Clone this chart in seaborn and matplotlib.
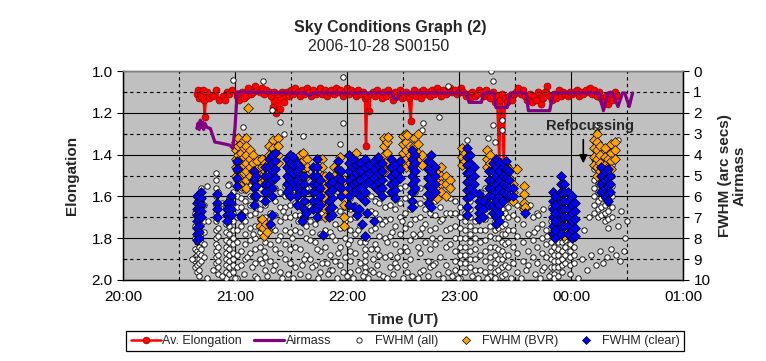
import matplotlib
matplotlib.use('Agg')
import matplotlib.pyplot as plt
import seaborn as sns
import pandas as pd
from matplotlib.ticker import MultipleLocator, FormatStrFormatter, FixedLocator, FixedFormatter

sns.set_theme(style='white')
plt.rcParams['font.family'] = ['Liberation Sans', 'DejaVu Sans']

# Eixo do tempo (horas; 24 = meia-noite)
hour_ticks = [20, 21, 22, 23, 24, 25]
hour_labels = ['20:00', '21:00', '22:00', '23:00', '00:00', '01:00']

# Airmass (eixo direito)
air_t = [20.66, 20.67, 20.68, 20.69, 20.70, 20.71, 20.72, 20.73, 20.75, 20.78, 20.82, 20.87,
         20.955, 20.98, 21.00, 21.02, 21.50, 21.63, 21.66, 21.70, 22.40, 22.42, 22.45, 22.47,
         23.07, 23.09, 23.20, 23.22, 23.31, 23.33, 23.43, 23.46, 23.60, 23.62, 23.81, 23.84,
         24.25, 24.29, 24.33, 24.37, 24.42, 24.46, 24.48, 24.52, 24.55]
air_v = [2.75, 2.5, 2.8, 2.35, 2.7, 2.45, 2.8, 2.5, 2.7, 2.75, 3.4, 3.45,
         3.55, 3.7, 2.7, 1.0, 1.05, 1.05, 1.2, 1.05, 1.05, 1.35, 1.35, 1.05,
         1.05, 1.5, 1.5, 1.05, 1.05, 1.75, 1.75, 1.05, 1.05, 1.9, 1.9, 1.05,
         1.05, 1.9, 1.05, 1.05, 1.7, 1.05, 1.05, 1.7, 1.05]

# Elongacao media (eixo esquerdo)
elong_pts = [
    (20.66, 1.11), (20.67, 1.09), (20.68, 1.13), (20.69, 1.10), (20.70, 1.12), (20.71, 1.09),
    (20.72, 1.14), (20.73, 1.22), (20.74, 1.12), (20.75, 1.10), (20.77, 1.13), (20.80, 1.12),
    (20.83, 1.09), (20.86, 1.14), (20.89, 1.12), (20.91, 1.14), (20.93, 1.10), (20.95, 1.11),
    (20.97, 1.09), (21.02, 1.12), (21.04, 1.14), (21.06, 1.10), (21.08, 1.13), (21.10, 1.12),
    (21.12, 1.08), (21.14, 1.11), (21.16, 1.10), (21.18, 1.07), (21.20, 1.09), (21.22, 1.10),
    (21.24, 1.08), (21.26, 1.11), (21.28, 1.09), (21.30, 1.10), (21.32, 1.12), (21.34, 1.17),
    (21.35, 1.10), (21.37, 1.20), (21.38, 1.11), (21.40, 1.18), (21.42, 1.10), (21.44, 1.15),
    (21.46, 1.10), (21.48, 1.12), (21.50, 1.09), (21.52, 1.11), (21.54, 1.08), (21.56, 1.10),
    (21.58, 1.12), (21.60, 1.09), (21.62, 1.11), (21.64, 1.08), (21.66, 1.10), (21.68, 1.12),
    (21.70, 1.09), (21.72, 1.11), (21.74, 1.10), (21.76, 1.08), (21.78, 1.11), (21.80, 1.09),
    (21.82, 1.12), (21.84, 1.10), (21.86, 1.09), (21.88, 1.11), (21.90, 1.08), (21.92, 1.10),
    (21.94, 1.09), (21.96, 1.12), (21.98, 1.10), (22.00, 1.08), (22.02, 1.11), (22.04, 1.09),
    (22.06, 1.10), (22.08, 1.12), (22.10, 1.09), (22.12, 1.11), (22.14, 1.10), (22.16, 1.13),
    (22.17, 1.36), (22.18, 1.12), (22.20, 1.19), (22.21, 1.11), (22.23, 1.10), (22.25, 1.12),
    (22.27, 1.09), (22.29, 1.11), (22.31, 1.13), (22.33, 1.10), (22.35, 1.12), (22.37, 1.09),
    (22.39, 1.11), (22.41, 1.14), (22.43, 1.10), (22.45, 1.12), (22.47, 1.09), (22.49, 1.13),
    (22.51, 1.11), (22.53, 1.10), (22.55, 1.13), (22.57, 1.24), (22.58, 1.11), (22.60, 1.09),
    (22.62, 1.12), (22.64, 1.10), (22.66, 1.13), (22.68, 1.09), (22.70, 1.11), (22.72, 1.10),
    (22.74, 1.12), (22.76, 1.09), (22.78, 1.11), (22.80, 1.08), (22.82, 1.10), (22.84, 1.12),
    (22.86, 1.09), (22.88, 1.11), (22.90, 1.10), (22.92, 1.08), (22.94, 1.10), (22.96, 1.09),
    (22.98, 1.11), (23.00, 1.10), (23.02, 1.08), (23.04, 1.10), (23.06, 1.12), (23.08, 1.11),
    (23.10, 1.13), (23.12, 1.10), (23.14, 1.12), (23.16, 1.11), (23.18, 1.09), (23.20, 1.10),
    (23.22, 1.12), (23.24, 1.09), (23.26, 1.11), (23.28, 1.13), (23.30, 1.10), (23.32, 1.15),
    (23.34, 1.12), (23.36, 1.43), (23.37, 1.14), (23.38, 1.11), (23.40, 1.44), (23.41, 1.13),
    (23.43, 1.15), (23.45, 1.12), (23.47, 1.14), (23.49, 1.11), (23.51, 1.10), (23.53, 1.08),
    (23.55, 1.11), (23.57, 1.09), (23.59, 1.12), (23.61, 1.14), (23.63, 1.11), (23.65, 1.15),
    (23.67, 1.12), (23.69, 1.14), (23.71, 1.10), (23.73, 1.16), (23.75, 1.13), (23.77, 1.10),
    (23.79, 1.07), (23.81, 1.12), (23.83, 1.14), (23.85, 1.11), (23.87, 1.13), (23.89, 1.09),
    (23.91, 1.12), (23.93, 1.10), (23.95, 1.11), (23.97, 1.12), (23.99, 1.10), (24.01, 1.11),
    (24.03, 1.10), (24.05, 1.09), (24.07, 1.12), (24.09, 1.10), (24.11, 1.11), (24.13, 1.09),
    (24.15, 1.10), (24.17, 1.08), (24.19, 1.11), (24.21, 1.09), (24.23, 1.12), (24.25, 1.10),
    (24.27, 1.13), (24.29, 1.15), (24.31, 1.12), (24.33, 1.16), (24.35, 1.11), (24.37, 1.14),
    (24.39, 1.10), (24.41, 1.12),
]

# FWHM (all): colunas de pontos
all_col_t = [20.64, 20.66, 20.68, 20.70, 20.72, 20.83, 20.85, 20.92, 20.95, 20.98,
             21.02, 21.05, 21.09, 21.13, 21.18, 21.22, 21.27, 21.31, 21.36, 21.40,
             21.45, 21.49, 21.54, 21.58, 21.63, 21.67, 21.71, 21.76, 21.80, 21.85,
             21.89, 21.94, 21.98, 22.03, 22.07, 22.12, 22.16, 22.21, 22.25, 22.29,
             22.34, 22.38, 22.43, 22.47, 22.52, 22.56, 22.61, 22.65, 22.70, 22.74,
             22.79, 22.83, 22.88, 22.92, 22.96, 23.01, 23.05, 23.10, 23.14, 23.19,
             23.23, 23.28, 23.32, 23.35, 23.38, 23.41, 23.44, 23.48, 23.52, 23.57,
             23.62, 23.66, 23.70, 23.74, 23.78, 23.82, 23.85, 23.88, 23.92, 23.95,
             23.99, 24.03, 24.21, 24.24, 24.27, 24.30, 24.33, 24.37]
all_col_f = [
    [6.8, 7.4, 8.0, 8.5, 8.9, 9.1, 9.4],
    [6.2, 6.6, 7.0, 7.5, 7.9, 8.2, 8.6, 8.8, 9.0, 9.3, 9.6],
    [6.0, 6.5, 7.1, 7.6, 8.1, 8.4, 8.7, 9.0, 9.2, 9.5, 9.8],
    [5.6, 6.3, 6.9, 7.3, 7.8, 8.2, 8.5, 8.8, 9.1],
    [6.4, 7.2, 7.7, 8.3, 8.9],
    [4.9, 5.2, 5.6, 6.0, 6.4, 6.8, 7.2, 7.6, 8.0, 8.3, 8.6, 8.9, 9.2, 9.5],
    [5.8, 6.5, 7.0, 7.5, 7.9, 8.4, 8.8, 9.1, 9.4, 9.7],
    [6.5, 6.9, 7.3, 7.7, 8.1, 8.4, 8.7, 9.0, 9.3, 9.6, 9.9],
    [5.4, 6.1, 6.6, 7.0, 7.4, 7.8, 8.2, 8.5, 8.8, 9.1, 9.4, 9.7],
    [5.8, 6.4, 6.8, 7.2, 7.6, 8.0, 8.3, 8.7, 9.0, 9.3, 9.6],
    [4.5, 5.0, 5.5, 6.0, 6.5, 7.0, 7.6, 8.2, 8.8, 9.4, 9.9],
    [4.8, 5.3, 5.7, 6.1, 6.5, 6.9, 7.4, 8.6, 9.3],
    [5.2, 5.7, 6.2, 6.7, 7.2, 7.8, 8.3, 9.0],
    [5.0, 5.5, 6.0, 6.4, 6.9, 7.5, 8.1, 8.7],
    [5.4, 5.9, 6.3, 6.8, 7.4, 8.0, 8.5, 9.2, 9.8],
    [5.6, 6.1, 6.6, 7.1, 7.7, 8.4, 9.0],
    [5.2, 5.8, 6.4, 7.0, 7.6, 8.2, 8.9, 9.5],
    [5.5, 6.1, 6.8, 7.5, 8.3, 9.1],
    [5.0, 5.6, 6.2, 6.9, 7.6, 8.5, 9.3],
    [5.8, 6.5, 7.2, 7.9, 8.7, 9.6],
    [5.5, 6.0, 6.5, 7.0, 7.6, 8.3, 9.0],
    [5.8, 6.4, 7.0, 7.7, 8.5, 9.2],
    [5.2, 5.7, 6.3, 6.9, 7.6, 8.4, 9.4],
    [5.6, 6.2, 6.9, 7.7, 8.5, 9.7],
    [5.0, 5.6, 6.2, 6.8, 7.4, 8.0, 8.8],
    [5.8, 6.5, 7.2, 8.1, 9.0],
    [5.4, 6.0, 6.6, 7.3, 8.2, 9.3],
    [5.2, 5.8, 6.4, 7.0, 7.8, 8.6, 9.6],
    [5.6, 6.2, 6.9, 7.6, 8.4],
    [5.0, 5.6, 6.2, 6.9, 7.7, 8.8, 9.5],
    [6.0, 6.6, 7.3, 8.1, 9.1],
    [5.4, 6.0, 6.7, 7.5, 8.4, 9.3],
    [5.2, 5.8, 6.5, 7.2, 8.0, 8.9],
    [5.6, 6.1, 6.6, 7.1, 7.6, 8.1, 8.6, 9.1, 9.6],
    [5.8, 6.4, 7.0, 7.8, 8.7],
    [6.0, 6.7, 7.4, 8.2, 9.2],
    [7.9, 8.2, 8.5, 8.8, 9.1, 9.4, 9.6],
    [5.4, 6.0, 6.7, 7.6, 8.5, 9.5],
    [5.6, 6.2, 6.8, 7.5, 8.3],
    [5.0, 5.6, 6.3, 7.1, 7.9, 8.8, 9.7],
    [5.3, 5.9, 6.5, 7.2, 8.0, 8.9],
    [5.8, 6.4, 7.1, 7.9, 8.8, 9.4],
    [5.4, 6.0, 6.6, 7.4, 8.3, 9.2],
    [5.6, 6.3, 7.0, 7.8, 8.6],
    [5.5, 6.1, 6.8, 7.5, 8.4, 9.3],
    [6.0, 6.6, 7.3, 8.1, 9.0],
    [5.2, 5.8, 6.4, 7.1, 7.9],
    [5.6, 6.3, 7.0, 7.8, 8.7, 9.6],
    [6.0, 6.6, 7.3, 8.2],
    [5.4, 6.0, 6.8, 7.6, 8.5, 9.4],
    [6.2, 6.9, 7.5, 8.3, 9.2],
    [5.8, 6.5, 7.2, 8.0, 8.9],
    [6.0, 6.8, 7.6, 8.4, 9.3],
    [5.5, 6.1, 6.8, 7.5, 8.3],
    [6.2, 6.8, 7.4, 8.0, 8.6, 9.1, 9.5],
    [6.5, 7.0, 7.5, 8.0, 8.4, 8.8, 9.2, 9.6, 9.9],
    [6.8, 7.2, 7.6, 8.0, 8.4, 8.8, 9.2, 9.6],
    [6.2, 6.6, 7.0, 7.4, 7.8, 8.2, 8.6, 9.0, 9.4],
    [7.2, 7.6, 8.0, 8.5, 9.0, 9.5],
    [5.8, 6.4, 7.0, 7.6, 8.2, 8.8, 9.5],
    [5.6, 6.1, 6.6, 7.1, 7.6, 8.1, 8.6, 9.1, 9.6],
    [5.4, 5.9, 6.4, 6.9, 7.4, 7.9, 8.4, 8.9, 9.4, 9.8],
    [6.0, 6.4, 6.8, 7.2, 7.6, 8.0, 8.4, 8.8, 9.2, 9.6, 9.9],
    [5.6, 6.0, 6.5, 7.0, 7.5, 8.0, 8.5, 9.0, 9.5],
    [6.2, 6.6, 7.0, 7.4, 7.8, 8.2, 8.6, 9.0, 9.4, 9.8],
    [5.8, 6.3, 6.8, 7.3, 7.8, 8.3, 8.8, 9.3, 9.7],
    [6.0, 6.5, 7.0, 7.6, 8.2, 8.8, 9.4],
    [5.6, 6.2, 6.9, 7.6, 8.4, 9.2],
    [6.4, 7.1, 7.9, 8.7, 9.6],
    [6.6, 7.3, 8.2, 9.1],
    [6.5, 7.8, 8.6, 9.3],
    [7.0, 8.1, 8.9],
    [6.8, 7.5, 8.4, 9.2],
    [7.3, 8.0, 8.7, 9.5],
    [7.6, 8.3, 8.9],
    [6.5, 7.2, 7.8, 8.2, 8.6, 9.0, 9.4, 9.7],
    [7.6, 8.0, 8.4, 8.8, 9.1, 9.4, 9.7, 9.9],
    [7.9, 8.2, 8.5, 8.8, 9.1, 9.4, 9.8],
    [7.4, 7.8, 8.2, 8.6, 9.0, 9.3, 9.6],
    [7.8, 8.1, 8.4, 8.8, 9.2],
    [8.0, 8.3, 8.6, 8.9, 9.3, 9.7],
    [7.6, 8.0, 8.4, 8.8, 9.2],
    [4.2, 4.7, 5.2, 5.6, 6.0, 6.4, 6.8],
    [4.5, 5.0, 5.4, 5.8, 6.2, 6.6, 7.0],
    [4.8, 5.3, 5.7, 6.1, 6.5, 6.9],
    [4.6, 5.1, 5.6, 6.0, 6.4, 6.8, 7.2],
    [4.4, 4.9, 5.4, 5.9, 6.3, 6.7, 7.1, 7.5],
    [4.0, 4.5, 5.0, 5.5, 6.0, 6.5, 7.0],
]
# FWHM (all): pontos isolados
all_pts = [
    (20.98, 0.45), (21.07, 2.7), (21.25, 0.5), (21.33, 1.85), (21.40, 2.45), (21.44, 3.0),
    (21.61, 3.1), (21.96, 0.3), (21.96, 2.5), (21.94, 3.5), (22.90, 0.7), (22.82, 2.2),
    (22.68, 2.5), (22.67, 2.8), (23.07, 3.3), (23.29, 0.0), (23.30, 0.5), (23.30, 2.6),
    (23.26, 3.2), (23.38, 2.35), (23.38, 2.8), (23.32, 3.4), (24.23, 2.6), (24.23, 2.9),
    (24.42, 3.3), (24.38, 3.7), (20.75, 5.5), (20.94, 5.45),
    (20.62, 9.0), (20.75, 9.9), (20.80, 9.5), (20.88, 9.8), (21.00, 9.9), (21.08, 9.7),
    (21.15, 9.4), (21.20, 9.9), (21.24, 9.2), (21.29, 9.8), (21.34, 9.5), (21.42, 9.9),
    (21.47, 9.7), (21.52, 9.9), (21.60, 9.3), (21.65, 9.8), (21.69, 9.4), (21.74, 9.9),
    (21.78, 9.2), (21.83, 9.7), (21.87, 9.5), (21.91, 9.9), (21.96, 9.6), (22.00, 9.8),
    (22.05, 9.9), (22.10, 9.5), (22.14, 9.8), (22.19, 9.9), (22.23, 9.6), (22.27, 9.3),
    (22.32, 9.8), (22.36, 9.9), (22.41, 9.7), (22.45, 9.4), (22.50, 9.9), (22.54, 9.6),
    (22.58, 9.8), (22.63, 9.9), (22.68, 9.5), (22.72, 9.8), (22.77, 9.3), (22.81, 9.7),
    (22.86, 9.9), (22.90, 9.6), (22.94, 9.8), (22.99, 9.9), (23.12, 9.8), (23.17, 9.9),
    (23.25, 9.9), (23.46, 9.9), (23.55, 9.9), (23.60, 9.5), (23.68, 9.7), (23.72, 9.9),
    (23.76, 9.4), (23.80, 9.8), (24.06, 9.9), (24.10, 9.0), (24.14, 9.5), (24.18, 8.8),
    (24.22, 9.3), (24.26, 8.6), (24.29, 9.2), (24.32, 8.9), (24.36, 8.5), (24.40, 8.8),
    (24.44, 9.1), (24.47, 8.6),
    (20.76, 7.2), (20.88, 6.3), (21.11, 8.9), (21.16, 7.8), (21.26, 8.6), (21.33, 7.4),
    (21.38, 8.1), (21.43, 6.7), (21.51, 8.0), (21.56, 7.2), (21.62, 9.0), (21.69, 7.7),
    (21.73, 8.5), (21.78, 6.8), (21.82, 9.2), (21.87, 7.9), (21.92, 8.7), (21.96, 7.4),
    (22.01, 8.3), (22.10, 7.6), (22.18, 8.0), (22.23, 9.0), (22.27, 8.5), (22.31, 7.3),
    (22.36, 8.2), (22.40, 7.7), (22.45, 8.9), (22.49, 7.2), (22.54, 8.6), (22.59, 7.8),
    (22.63, 8.4), (22.67, 7.5), (22.72, 9.1), (22.76, 8.0), (22.85, 7.1), (23.63, 6.4),
    (23.67, 7.7), (23.71, 6.9), (23.75, 6.6), (23.79, 7.9), (24.12, 7.6), (24.16, 7.0),
    (24.42, 7.4), (24.45, 6.7), (24.48, 8.0), (24.50, 7.2),
]

# FWHM (BVR): colunas e pontos isolados
bvr_col_t = [21.01, 21.03, 21.05, 21.08, 21.10, 21.13, 21.16, 21.20, 21.24, 21.27,
             21.30, 21.34, 21.38, 21.58, 21.61, 21.64, 21.78, 21.80, 21.88, 21.97,
             22.08, 22.33, 22.36, 22.50, 22.53, 22.56, 22.60, 22.63, 22.67, 22.77,
             22.80, 22.84, 22.88, 22.92, 23.03, 23.05, 23.25, 23.28, 23.42, 23.45,
             23.48, 23.58, 23.94, 23.97, 24.00, 24.21, 24.23, 24.26, 24.30, 24.33,
             24.36, 24.39]
bvr_col_f = [
    [3.4, 3.8, 4.2, 4.6, 5.0], [3.2, 3.6, 4.0, 4.4, 4.8, 5.2], [3.5, 3.9, 4.3, 4.7, 5.1, 5.5],
    [3.3, 3.7, 4.1, 4.5, 4.9], [3.2, 3.6, 4.0, 4.4, 4.8, 5.2, 5.6], [3.8, 4.2, 4.6, 5.0],
    [4.0, 4.4, 4.8, 5.2], [4.3, 4.7, 5.1], [4.2, 4.6, 5.0, 5.3], [4.4, 4.8, 5.2],
    [3.6, 4.0, 4.4, 4.8], [3.3, 3.7, 4.1, 4.5], [3.2, 3.6, 4.0, 4.4],
    [4.0, 4.4, 4.8], [3.9, 4.3, 4.7, 5.0], [4.2, 4.6, 5.0],
    [4.2, 4.6, 5.0, 5.4, 5.8, 6.2], [5.0, 5.6, 6.1, 6.6, 7.0], [4.6, 5.0, 5.3],
    [5.2, 5.8, 6.4, 7.0, 7.4], [3.9, 4.3, 4.6], [3.2, 3.6, 4.0, 4.4, 4.8], [3.4, 3.9, 4.3],
    [3.1, 3.5, 3.9, 4.3], [3.0, 3.4, 3.8, 4.2, 4.6], [3.6, 4.0, 4.4],
    [3.2, 3.6, 4.0, 4.4, 4.8], [3.0, 3.5, 3.9, 4.3], [4.0, 4.5], [4.7, 5.1, 5.5],
    [4.9, 5.3, 5.7, 6.1], [4.6, 5.0, 5.4, 5.8], [5.0, 5.4, 6.0], [5.2, 5.6],
    [3.7, 4.1, 4.5], [3.9, 4.3], [3.8, 4.2, 4.6], [4.0, 4.4], [4.5, 4.9, 5.3],
    [4.7, 5.1, 5.5, 5.9], [5.4, 5.8, 6.2], [5.5, 5.9, 6.3, 6.6],
    [7.2, 7.6, 7.9], [7.0, 7.4], [7.3, 7.8],
    [3.3, 3.7, 4.1, 4.5], [3.0, 3.4, 3.8, 4.2, 4.6, 5.0], [3.6, 4.0, 4.4, 4.8],
    [3.7, 4.1, 4.5], [4.2, 4.6, 5.0, 5.3], [3.5, 3.9, 4.3, 4.7], [3.4, 3.8, 4.2],
]
bvr_pts = [(21.12, 1.75), (21.22, 7.4), (21.24, 7.1), (21.25, 7.5), (21.26, 7.9), (21.28, 7.3),
           (21.29, 7.7), (21.94, 4.1), (22.37, 3.15), (22.54, 3.06), (23.52, 4.7),
           (23.59, 6.5), (24.30, 5.6), (24.31, 6.1)]

# FWHM (clear): colunas e pontos isolados
clear_col_t = [20.66, 20.68, 20.70, 20.84, 20.93, 20.96, 21.02, 21.17, 21.19, 21.27,
               21.30, 21.33, 21.36, 21.46, 21.49, 21.52, 21.55, 21.58, 21.62, 21.70,
               21.73, 21.76, 21.84, 21.87, 21.92, 21.95, 22.02, 22.05, 22.08, 22.12,
               22.16, 22.20, 22.24, 22.28, 22.31, 22.39, 22.43, 22.47, 22.58, 22.61,
               22.72, 22.75, 22.79, 23.07, 23.10, 23.13, 23.18, 23.21, 23.27, 23.30,
               23.33, 23.36, 23.39, 23.42, 23.45, 23.48, 23.84, 23.86, 23.91, 23.94,
               23.97, 24.01, 24.04, 24.27, 24.30, 24.33, 24.35]
clear_col_f = [
    [6.0, 6.3, 6.6, 6.9, 7.2, 7.5, 7.8, 8.1], [6.2, 6.5, 6.8, 7.1, 7.4, 7.7, 8.0],
    [5.8, 6.1, 6.4, 6.7, 7.0], [5.9, 6.3, 6.6, 7.0], [6.3, 6.6, 6.9, 7.2], [6.0, 6.3, 6.6, 6.9],
    [4.3, 4.7, 5.1, 5.5], [4.8, 5.2, 5.6, 6.0, 6.4], [5.0, 5.5, 6.0],
    [4.6, 5.0, 5.4, 5.8, 6.2], [4.2, 4.6, 5.0, 5.4], [4.0, 4.4, 4.8, 5.2, 5.6, 6.0],
    [3.9, 4.3, 4.7, 5.1], [4.2, 4.6, 5.0, 5.4, 5.8], [4.0, 4.4, 4.8, 5.2, 5.6, 6.0],
    [4.1, 4.5, 4.9, 5.3], [4.4, 4.8, 5.2, 5.6, 6.0, 6.4], [4.6, 5.0, 5.4, 5.8],
    [5.0, 5.4, 5.8, 6.2, 6.6, 7.0], [4.6, 5.0, 5.4, 5.8, 6.2, 6.6],
    [4.2, 4.6, 5.0, 5.4, 5.8, 6.2, 6.6, 7.0], [5.2, 5.6, 6.0, 6.4],
    [5.0, 5.4, 5.8, 6.2, 6.6, 7.0], [5.3, 5.7, 6.1, 6.5, 6.9], [4.3, 4.7, 5.1, 5.5],
    [4.8, 5.2, 5.6, 6.0], [4.0, 4.4, 4.8, 5.2, 5.6, 6.0, 6.4], [4.2, 4.6, 5.0, 5.4, 5.8],
    [4.5, 4.9, 5.3, 5.7], [4.4, 4.8, 5.2, 5.6, 6.0], [4.2, 4.6, 5.0, 5.4, 5.8, 6.2],
    [4.5, 4.9, 5.3], [4.3, 4.7, 5.1, 5.5], [4.1, 4.5, 4.9, 5.3, 5.7],
    [4.4, 4.8, 5.2, 5.6, 6.0], [4.2, 4.6, 5.0, 5.4, 5.8], [4.5, 4.9, 5.3, 5.7, 6.1],
    [4.3, 4.7, 5.1], [3.8, 4.2, 4.6, 5.0, 5.4, 5.8, 6.2, 6.5], [4.0, 4.4, 4.8, 5.2, 5.6],
    [4.3, 4.7, 5.1, 5.5, 5.9, 6.3], [4.0, 4.4, 4.8, 5.2, 5.6, 6.0, 6.5], [4.6, 5.0, 5.4, 5.8],
    [3.7, 4.1, 4.5, 4.9, 5.3, 5.7, 6.1, 6.5, 6.9], [4.0, 4.4, 4.8, 5.2, 5.6, 6.0],
    [4.6, 5.0, 5.4, 5.8], [5.9, 6.2, 6.5, 6.8, 7.1], [6.2, 6.6, 7.0],
    [4.8, 5.2, 5.6, 6.0, 6.4], [4.4, 4.8, 5.2, 5.6, 6.0, 6.4, 6.8],
    [4.2, 4.6, 5.0, 5.4, 5.8, 6.2, 6.6, 7.0, 7.3], [4.4, 4.8, 5.2, 5.6, 6.0, 6.4, 6.8, 7.2],
    [4.6, 5.0, 5.4, 5.8, 6.2], [4.3, 4.7, 5.1, 5.5, 5.9], [4.8, 5.2, 5.6, 6.0], [5.6, 6.0],
    [5.8, 6.2, 6.6, 7.0, 7.4, 7.8], [6.0, 6.4, 6.8, 7.2, 7.6, 8.0],
    [5.0, 5.4, 5.8, 6.2, 6.6, 7.0, 7.4, 7.8], [5.4, 5.8, 6.2, 6.6, 7.0, 7.4],
    [5.8, 6.2, 6.6, 7.0, 7.4, 7.8], [6.0, 6.4, 6.8, 7.2, 7.6, 8.0], [6.3, 6.7, 7.1, 7.5, 7.9],
    [4.6, 5.0, 5.4, 5.8], [4.8, 5.2, 5.6, 6.0], [4.7, 5.1, 5.5, 5.9, 6.2], [5.0, 5.4, 5.8],
]
clear_pts = [(21.05, 6.9), (21.05, 7.0), (21.31, 7.3), (21.33, 6.9), (21.60, 7.2), (21.63, 6.8),
             (21.79, 7.85), (22.06, 6.5), (22.09, 6.9), (22.11, 6.6), (22.13, 7.3),
             (22.18, 6.8), (22.24, 7.2), (22.16, 7.9), (23.59, 6.8)]


def expand(cols_t, cols_f, pts):
    xs, ys = [], []
    for t, fs in zip(cols_t, cols_f):
        xs += [t] * len(fs)
        ys += fs
    xs += [p[0] for p in pts]
    ys += [p[1] for p in pts]
    return pd.DataFrame({'t': xs, 'f': ys})


df_all = expand(all_col_t, all_col_f, all_pts)
df_bvr = expand(bvr_col_t, bvr_col_f, bvr_pts)
df_clear = expand(clear_col_t, clear_col_f, clear_pts)
df_el = pd.DataFrame(elong_pts, columns=['t', 'e'])
df_air = pd.DataFrame({'t': air_t, 'a': air_v})

fig = plt.figure(figsize=(7.66, 3.61), dpi=100)
ax = fig.add_axes([0.1606, 0.2244, 0.7310, 0.5789])
ax_el = ax.twinx()

# camadas: elongacao (com fundo cinza) por baixo, FWHM/Airmass por cima
ax_el.set_zorder(0)
ax.set_zorder(1)
ax.patch.set_visible(False)
ax_el.patch.set_visible(True)
ax_el.patch.set_facecolor('#c0c0c0')
ax.set_axisbelow(True)

# elongacao no eixo esquerdo
sns.lineplot(data=df_el, x='t', y='e', ax=ax_el, color='#FF0000', lw=1.8, marker='o',
             markersize=5.0, markeredgecolor='#990000', markeredgewidth=0.5,
             sort=False, estimator=None, legend=False)

# dados no eixo direito (FWHM / Airmass)
sns.scatterplot(data=df_all, x='t', y='f', ax=ax, marker='o', s=15, color='white',
                edgecolor='black', linewidth=0.6, legend=False, zorder=3)
sns.scatterplot(data=df_bvr, x='t', y='f', ax=ax, marker='D', s=25, color='#FFA500',
                edgecolor='black', linewidth=0.5, legend=False, zorder=4)
sns.scatterplot(data=df_clear, x='t', y='f', ax=ax, marker='D', s=25, color='#0000FF',
                edgecolor='black', linewidth=0.5, legend=False, zorder=5)
sns.lineplot(data=df_air, x='t', y='a', ax=ax, color='#800080', lw=2.3, sort=False,
             estimator=None, legend=False, zorder=6)

ax.set_xlim(20, 25)
ax.set_ylim(10, 0)
ax.xaxis.set_major_locator(FixedLocator(hour_ticks))
ax.xaxis.set_major_formatter(FixedFormatter(hour_labels))
ax.xaxis.set_minor_locator(MultipleLocator(0.5))
ax.yaxis.set_major_locator(MultipleLocator(2))
ax.yaxis.set_minor_locator(MultipleLocator(1))
ax.yaxis.set_major_formatter(FormatStrFormatter('%d'))
ax.yaxis.set_minor_formatter(FormatStrFormatter('%d'))
ax.grid(which='major', color='black', lw=0.8, ls='-')
ax.grid(which='minor', color='black', lw=0.8, ls=(0, (3, 3)))
ax.yaxis.tick_right()
ax.yaxis.set_label_position('right')
ax.tick_params(axis='both', which='both', direction='out', length=4, width=0.8,
               labelsize=11, colors='black')
ax.tick_params(axis='y', which='both', right=True, labelright=True, left=False,
               labelleft=False)
ax.tick_params(axis='x', which='minor', length=3)
ax.set_xlabel('Time (UT)', fontsize=11, fontweight='bold')
ax.set_ylabel('FWHM (arc secs)\nAirmass', fontsize=11, fontweight='bold', linespacing=1.1)
ax.xaxis.set_label_coords(0.5, -0.16)
ax.yaxis.set_label_coords(1.062, 0.5)

ax_el.set_ylim(2.0, 1.0)
ax_el.yaxis.tick_left()
ax_el.yaxis.set_label_position('left')
ax_el.yaxis.set_major_locator(MultipleLocator(0.2))
ax_el.yaxis.set_minor_locator(MultipleLocator(0.1))
ax_el.yaxis.set_major_formatter(FormatStrFormatter('%.1f'))
ax_el.tick_params(axis='y', which='major', direction='out', length=4, width=0.8,
                  labelsize=11, colors='black', left=True, right=False)
ax_el.tick_params(axis='y', which='minor', direction='in', length=3, width=0.8,
                  left=True, right=False)
ax_el.set_ylabel('Elongation', fontsize=11, fontweight='bold')
ax_el.yaxis.set_label_coords(-0.078, 0.5)
ax_el.grid(False)

for a in (ax, ax_el):
    for side in ('left', 'right', 'bottom'):
        a.spines[side].set_color('black')
        a.spines[side].set_linewidth(0.9)
    a.spines['top'].set_color('#808080')
    a.spines['top'].set_linewidth(1.0)

# anotacao
ax.annotate('', xy=(24.11, 4.55), xytext=(24.11, 3.15),
            arrowprops=dict(arrowstyle='-|>', color='black', lw=1.2, mutation_scale=12),
            zorder=8)
ax.text(24.17, 2.65, 'Refocussing', ha='center', va='center', fontsize=10.5,
        fontweight='bold', zorder=8)

# titulos
fig.text(0.510, 0.925, 'Sky Conditions Graph (2)', ha='center', va='center',
         fontsize=11.5, fontweight='bold')
fig.text(0.494, 0.872, '2006-10-28 S00150', ha='center', va='center', fontsize=11.5)

# legenda
handles = [
    plt.Line2D([], [], color='#FF0000', lw=1.8, marker='o', markersize=4.8,
               markeredgecolor='#990000', markeredgewidth=0.5),
    plt.Line2D([], [], color='#800080', lw=2.3),
    plt.Line2D([], [], ls='none', marker='o', markersize=3.8, markerfacecolor='white',
               markeredgecolor='black', markeredgewidth=0.6),
    plt.Line2D([], [], ls='none', marker='D', markersize=4.2, markerfacecolor='#FFA500',
               markeredgecolor='black', markeredgewidth=0.5),
    plt.Line2D([], [], ls='none', marker='D', markersize=4.2, markerfacecolor='#0000FF',
               markeredgecolor='black', markeredgewidth=0.5),
]
labels = ['Av. Elongation', 'Airmass', 'FWHM (all)', 'FWHM (BVR)', 'FWHM (clear)']
leg = fig.legend(handles, labels, loc='center', bbox_to_anchor=(0.529, 0.0554), ncol=5,
                 fontsize=9, frameon=True, fancybox=False, edgecolor='black',
                 framealpha=1, borderpad=0.35, handlelength=2.4, handletextpad=0.1,
                 columnspacing=1.0)
leg.get_frame().set_linewidth(0.9)

fig.savefig('out.png', dpi=100, facecolor='white')
